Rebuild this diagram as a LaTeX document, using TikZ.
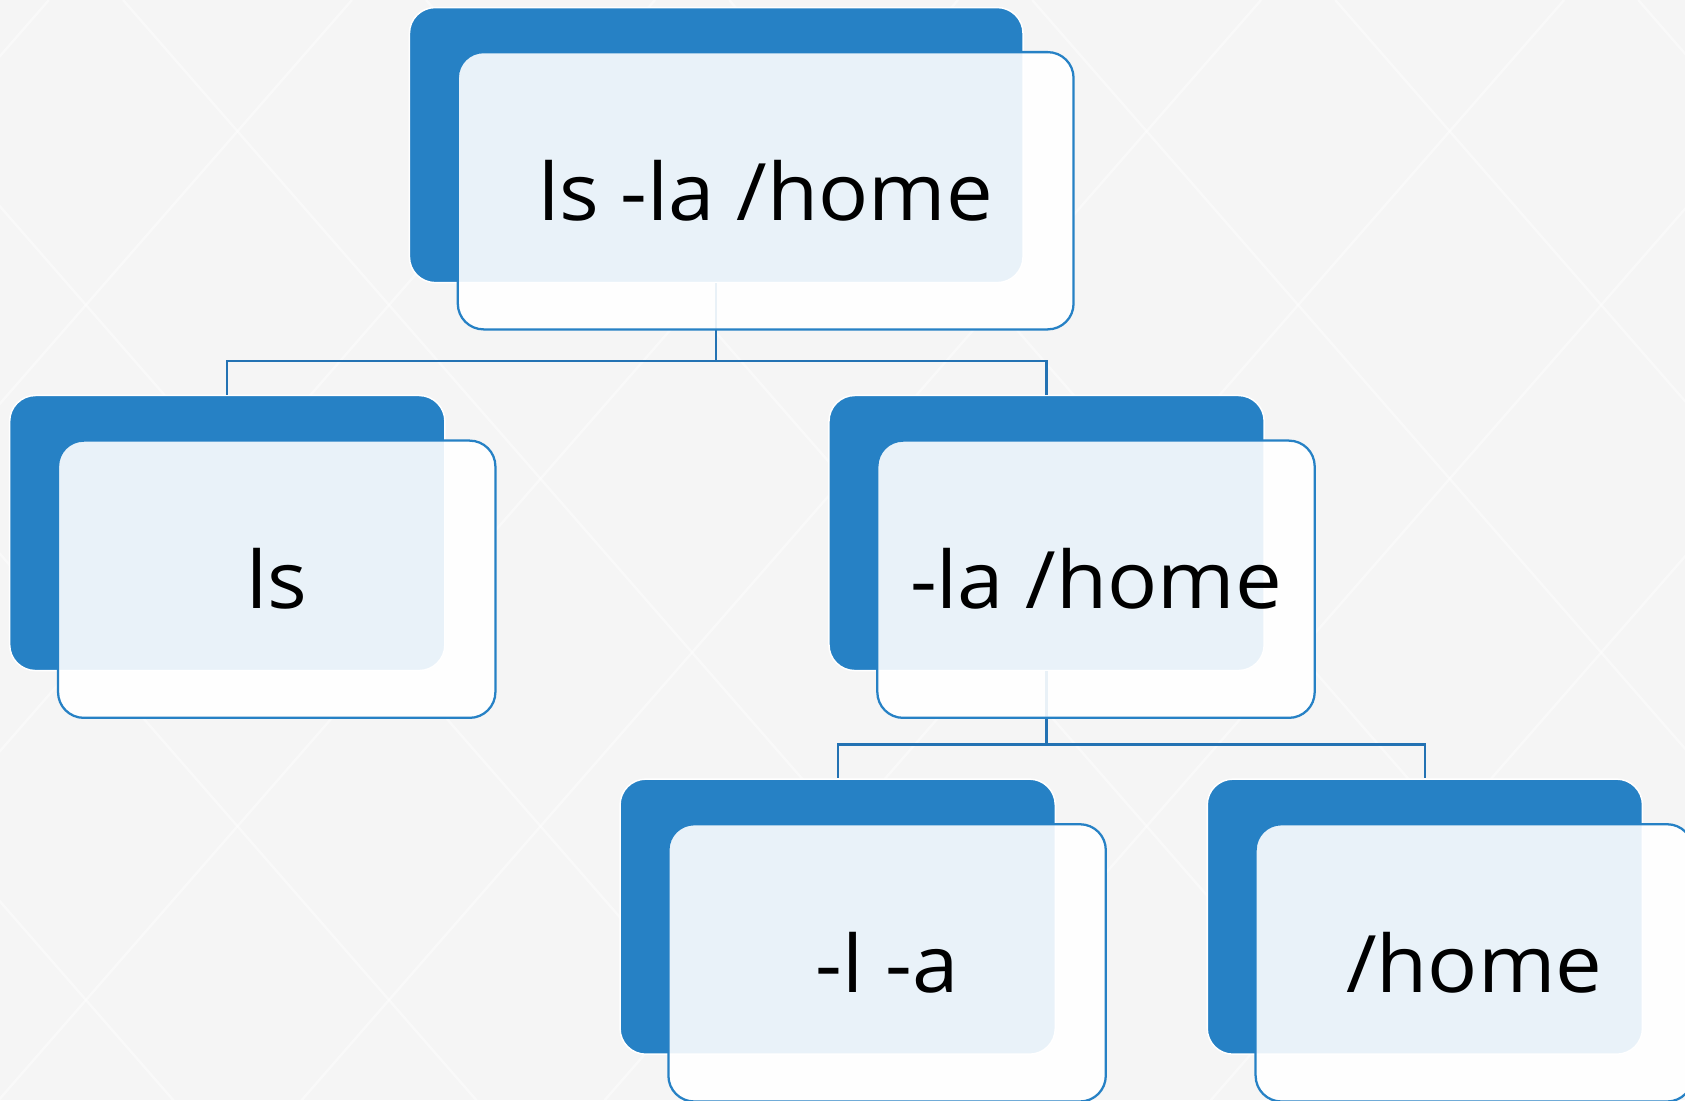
\documentclass[tikz,border=0pt]{standalone}
\usepackage{fontspec}
\setmainfont{Open Sans}[FakeStretch=1.05]
\usepackage{tikz}
\usetikzlibrary{positioning,calc}
\definecolor{boxblue}{HTML}{2681C5}
\definecolor{lineblue}{HTML}{2372B3}
\definecolor{bggray}{HTML}{F5F5F5}

\begin{document}
\begin{tikzpicture}[
  font=\fontsize{21}{25}\selectfont,
  back/.style={rectangle, rounded corners=0.24cm, fill=boxblue, draw=white, line width=0.4pt, minimum width=4.05cm, minimum height=2.56cm, inner sep=0pt},
  wideback/.style={back, minimum width=5.71cm},
  front/.style={rectangle, rounded corners=0.24cm, fill=white, fill opacity=0.9, text opacity=1, draw=boxblue, line width=0.6pt, minimum width=4.07cm, minimum height=2.58cm, inner sep=0pt},
  widefront/.style={front, minimum width=5.73cm},
  conn/.style={draw=lineblue, line width=0.6pt},
  bgline/.style={white, line width=0.6pt, opacity=0.45}
]
\useasboundingbox (0,0) rectangle (15.68,-10.24);
\clip (0,0) rectangle (15.68,-10.24);
% background
\fill[bggray] (0,0) rectangle (15.68,-10.24);
\foreach \k in {-2,...,7}
  \draw[bgline] (-4.495+2.82*\k,0) -- ++(8.93,-10.24);
\foreach \k in {-4,...,6}
  \draw[bgline] (8.915+2.82*\k,0) -- ++(-8.93,-10.24);

\node[wideback] (top-b) at (6.665,-1.35) {};
\node[back] (ls-b) at (2.115,-4.96) {};
\node[back, right=3.56cm of ls-b] (la-b) {};
\node[back] (l-b) at (7.795,-8.53) {};
\node[back, right=1.40cm of l-b] (home-b) {};

\draw[conn] (top-b.south) -- ++(0,-0.72) coordinate (j1) -| (ls-b.north);
\draw[conn] (j1) -| (la-b.north);
\draw[conn] (la-b.south) -- ++(0,-0.68) coordinate (j2) -| (l-b.north);
\draw[conn] (j2) -| (home-b.north);

\node[widefront] (top) at ([shift={(0.46,-0.425)}]top-b) {ls -la /home};
\node[front] (ls) at ([shift={(0.46,-0.43)}]ls-b) {ls};
\node[front] (la) at ([shift={(0.46,-0.43)}]la-b) {-la /home};
\node[front] (l) at ([shift={(0.46,-0.43)}]l-b) {-l -a};
\node[front] (home) at ([shift={(0.46,-0.43)}]home-b) {/home};
\end{tikzpicture}
\end{document}
